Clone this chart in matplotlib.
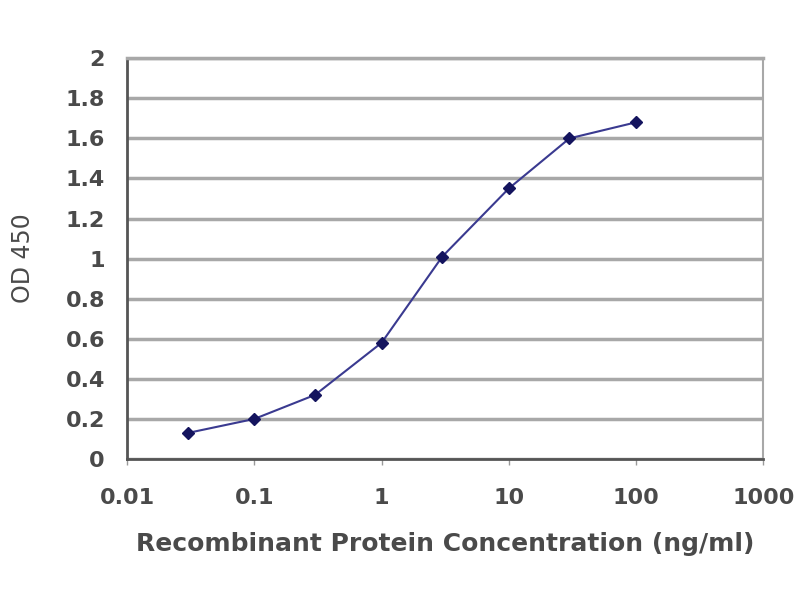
import matplotlib
matplotlib.use("Agg")
import matplotlib.pyplot as plt
from matplotlib.ticker import FixedLocator, FixedFormatter, NullLocator

# concentration (ng/ml) and OD 450
conc = [0.03, 0.1, 0.3, 1, 3, 10, 30, 100]
od = [0.13, 0.20, 0.32, 0.58, 1.01, 1.35, 1.60, 1.68]

x_ticks = [0.01, 0.1, 1, 10, 100, 1000]
x_labels = ['0.01', '0.1', '1', '10', '100', '1000']
y_ticks = [0, 0.2, 0.4, 0.6, 0.8, 1, 1.2, 1.4, 1.6, 1.8, 2]
y_labels = ['0', '0.2', '0.4', '0.6', '0.8', '1', '1.2', '1.4', '1.6', '1.8', '2']

plt.rcParams['font.family'] = ['DejaVu Sans']
plt.rcParams['font.weight'] = 'bold'
text_color = '#4a4a4a'

fig = plt.figure(figsize=(8, 6), dpi=100)
ax = fig.add_axes([0.159, 0.235, 0.795, 0.668])

ax.plot(conc, od, color='#3a3a90', linewidth=1.5, marker='D', markersize=6,
        markerfacecolor='#14145e', markeredgecolor='#14145e', zorder=3)

ax.set_xscale('log')
ax.set_xlim(0.01, 1000)
ax.set_ylim(0, 2)
ax.xaxis.set_major_locator(FixedLocator(x_ticks))
ax.xaxis.set_major_formatter(FixedFormatter(x_labels))
ax.xaxis.set_minor_locator(NullLocator())
ax.set_yticks(y_ticks)
ax.set_yticklabels(y_labels)

ax.yaxis.grid(True, color='#a8a8a8', linewidth=2.5)
ax.set_axisbelow(True)

for side in ['left', 'bottom']:
    ax.spines[side].set_color('#555555')
    ax.spines[side].set_linewidth(2)
ax.spines['top'].set_color('#a8a8a8')
ax.spines['top'].set_linewidth(2.5)
ax.spines['right'].set_color('#a8a8a8')
ax.spines['right'].set_linewidth(1.5)

ax.tick_params(axis='x', direction='out', length=4, width=1, colors='#999999',
               labelcolor=text_color, labelsize=16, pad=17)
ax.tick_params(axis='y', length=0, labelcolor=text_color, labelsize=16, pad=16)

ax.set_xlabel('Recombinant Protein Concentration (ng/ml)', fontsize=18,
              fontweight='bold', color=text_color, labelpad=17)
ax.set_ylabel('OD 450', fontsize=17, color=text_color, labelpad=22)

fig.savefig('out.png', dpi=100)
